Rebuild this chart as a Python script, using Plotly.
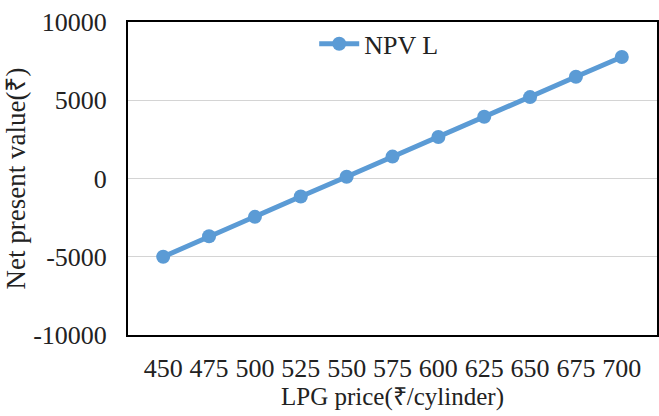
import plotly.graph_objects as go

# LPG price per cylinder (₹) and resulting net present value (₹)
lpg_price = ["450", "475", "500", "525", "550", "575", "600", "625", "650", "675", "700"]
npv_l = [-5000, -3690, -2450, -1150, 110, 1400, 2650, 3950, 5200, 6500, 7760]

y_ticks = [-10000, -5000, 0, 5000, 10000]
y_tick_text = ["-10000", "-5000", "0", "5000", "10000"]

serif = "Liberation Serif"
blue = "#5B9BD5"

fig = go.Figure()
fig.add_trace(go.Scatter(
    x=lpg_price, y=npv_l, name="NPV L",
    mode="lines+markers",
    line=dict(color=blue, width=5),
    marker=dict(color=blue, size=14),
))

fig.update_layout(
    width=659, height=416,
    margin=dict(l=128, r=2, t=22, b=81),
    paper_bgcolor="white", plot_bgcolor="white",
    font=dict(family=serif, size=20, color="#222"),
    showlegend=True,
    legend=dict(
        orientation="h", x=0.352, y=0.93, xanchor="left", yanchor="middle",
        bgcolor="rgba(0,0,0,0)", font=dict(size=26, family=serif, color="#222"),
        itemwidth=40,
    ),
    xaxis=dict(
        type="category",
        title=dict(text="LPG price(₹/cylinder)", font=dict(size=25, family=serif), standoff=4),
        tickfont=dict(size=26, family=serif, color="#222"),
        showgrid=False, showline=True, linecolor="black", linewidth=2, mirror=True,
        ticks="", ticklabelstandoff=9, automargin=False,
    ),
    yaxis=dict(
        range=[-10000, 10000], tickvals=y_ticks, ticktext=y_tick_text,
        title=dict(text="Net present value(₹)", font=dict(size=27, family=serif), standoff=0),
        tickfont=dict(size=26, family=serif, color="#222"),
        showgrid=True, gridcolor="#d4d4d4", gridwidth=1,
        zeroline=True, zerolinecolor="#d4d4d4", zerolinewidth=1,
        showline=True, linecolor="black", linewidth=2, mirror=True,
        ticks="", ticklabelstandoff=14, automargin=False,
    ),
)

fig.write_html("out.html")
